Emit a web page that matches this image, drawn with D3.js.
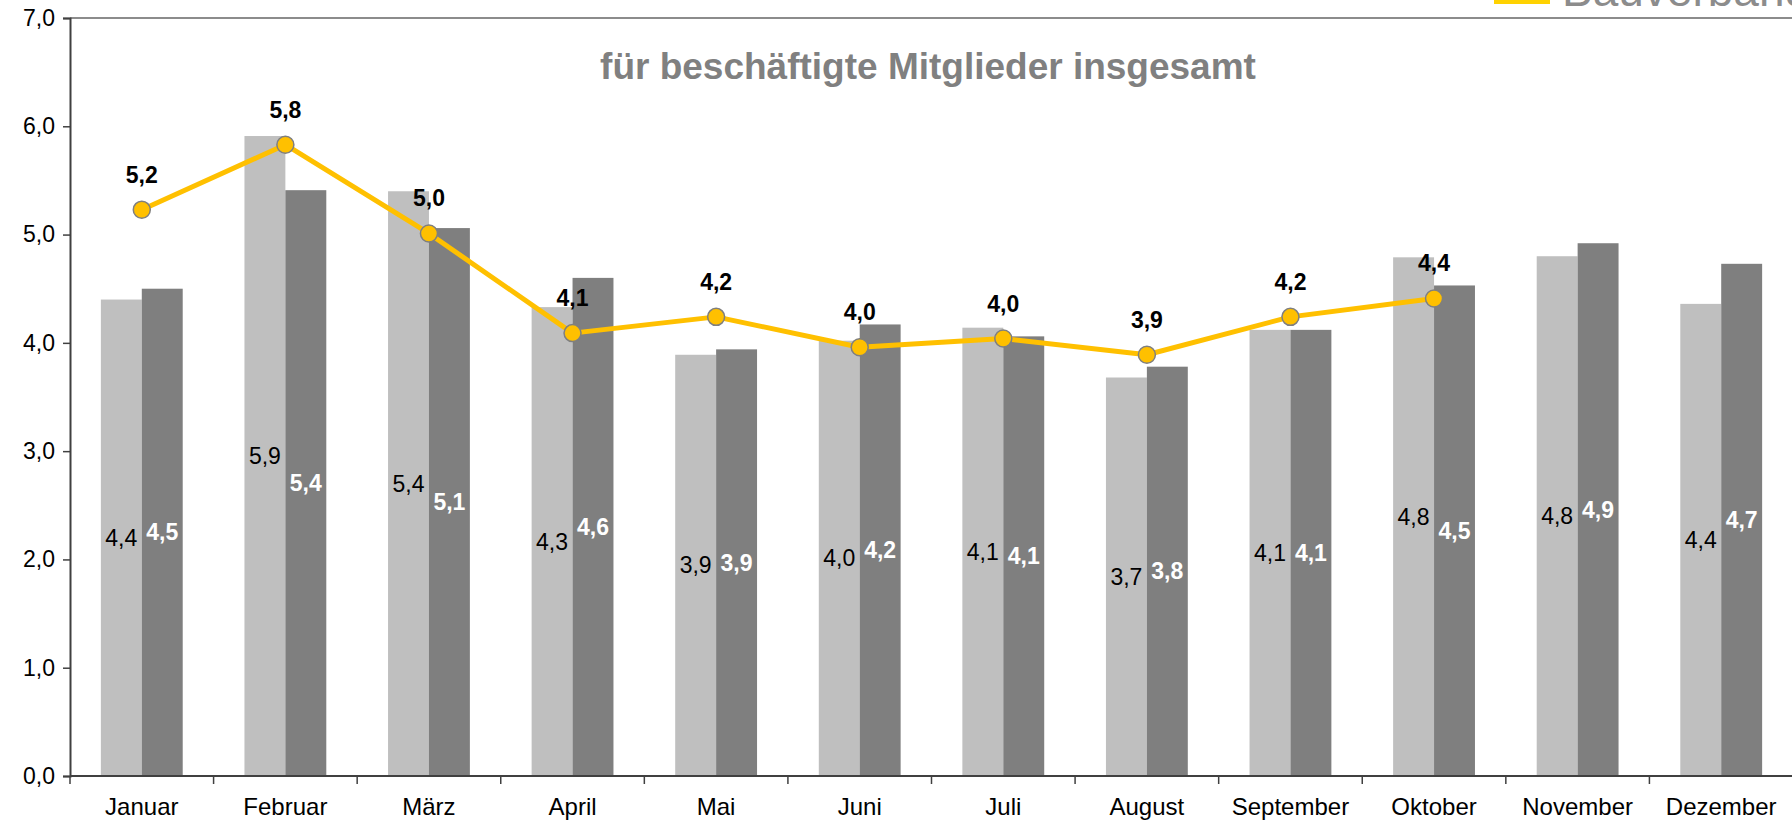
<!DOCTYPE html>
<html>
<head>
<meta charset="utf-8">
<script src="https://cdn.jsdelivr.net/npm/d3@7"></script>
<style>
	body { margin: 0; background: #fff; }
	svg { display: block; font-family: 'Liberation Sans', Arial, sans-serif; }
</style>
</head>
<body>
<svg id="mySVG" width="1792" height="822"></svg>
<script>

var months = ['Januar', 'Februar', 'März', 'April', 'Mai', 'Juni', 'Juli', 'August', 'September', 'Oktober', 'November', 'Dezember'];
// light grey bars, dark grey bars, yellow line (no value for Nov/Dez)
var lightValues = [4.40, 5.91, 5.40, 4.33, 3.89, 4.02, 4.14, 3.68, 4.12, 4.79, 4.80, 4.36];
var darkValues = [4.50, 5.41, 5.06, 4.60, 3.94, 4.17, 4.06, 3.78, 4.12, 4.53, 4.92, 4.73];
var lineValues = [5.23, 5.83, 5.01, 4.09, 4.24, 3.96, 4.04, 3.89, 4.24, 4.41, null, null];
var yTicks = [0, 1, 2, 3, 4, 5, 6, 7];
var title = 'für beschäftigte Mitglieder insgesamt';

var margin = {top: 18, right: -1, bottom: 46, left: 70};
var size = {width: 1792, height: 822};
var colors = {light: '#bfbfbf', dark: '#7f7f7f', line: '#ffc000', axis: '#404040', frame: '#8c8c8c'};

var de = d3.formatLocale({decimal: ',', thousands: '.', grouping: [3], currency: ['', ' €']});
var fmt = de.format('.1f');

var svg = d3.select('#mySVG');

var x = d3.scaleBand()
	.domain(months)
	.range([margin.left, size.width - margin.right])
	.paddingInner(0.43)
	.paddingOuter(0.215);

// outer band without padding, for the tick marks between months
var xStep = d3.scaleBand()
	.domain(months)
	.range([margin.left, size.width - margin.right]);

var xSub = d3.scaleBand()
	.domain(['light', 'dark'])
	.range([0, x.bandwidth()]);

var y = d3.scaleLinear()
	.domain([0, 7])
	.range([size.height - margin.bottom, margin.top]);

// logo remains at the top right (cut off by the page edge, as in the original)
svg.append('rect')
	.attr('x', 1494).attr('y', -10)
	.attr('width', 56).attr('height', 14)
	.attr('fill', '#ffd200');
svg.append('text')
	.attr('x', 1562).attr('y', 6)
	.attr('font-size', '46px')
	.attr('fill', '#8c8c8c')
	.text('Bauverband');

// frame top line
svg.append('line')
	.attr('x1', margin.left).attr('x2', size.width)
	.attr('y1', y(7)).attr('y2', y(7))
	.attr('stroke', colors.frame)
	.attr('stroke-width', 2);

svg.append('text')
	.attr('x', 928)
	.attr('y', 79)
	.attr('text-anchor', 'middle')
	.attr('font-size', '37px')
	.attr('font-weight', 'bold')
	.attr('fill', '#808080')
	.text(title);

var series = [
	{key: 'light', values: lightValues},
	{key: 'dark', values: darkValues}
];

var groups = svg.selectAll('g.series')
	.data(series)
	.enter().append('g')
	.attr('class', 'series');

groups.selectAll('rect')
	.data(s => s.values.map((v, i) => ({key: s.key, month: months[i], value: v})))
	.enter().append('rect')
	.attr('x', d => x(d.month) + xSub(d.key))
	.attr('y', d => y(d.value))
	.attr('width', xSub.bandwidth())
	.attr('height', d => y(0) - y(d.value))
	.attr('fill', d => colors[d.key]);

groups.selectAll('text')
	.data(s => s.values.map((v, i) => ({key: s.key, month: months[i], value: v})))
	.enter().append('text')
	.attr('x', d => x(d.month) + xSub(d.key) + xSub.bandwidth() / 2)
	.attr('y', d => y(d.value / 2) + 8)
	.attr('text-anchor', 'middle')
	.attr('font-size', '23px')
	.attr('font-weight', d => d.key == 'dark' ? 'bold' : 'normal')
	.attr('fill', d => d.key == 'dark' ? '#fff' : '#000')
	.text(d => fmt(d.value));

// y axis
var yAxis = d3.axisLeft(y)
	.tickValues(yTicks)
	.tickSize(7)
	.tickPadding(8)
	.tickFormat(fmt);

var gy = svg.append('g')
	.attr('transform', 'translate(' + margin.left + ',0)')
	.call(yAxis);
gy.select('.domain').attr('stroke', colors.axis).attr('stroke-width', 2);
gy.selectAll('.tick line').attr('stroke', colors.axis).attr('stroke-width', 1.5);
gy.selectAll('.tick text')
	.attr('font-size', '23px')
	.attr('font-family', "'Liberation Sans', Arial, sans-serif")
	.attr('fill', '#000');

// x axis
var gx = svg.append('g')
	.attr('transform', 'translate(0,' + y(0) + ')');
gx.append('line')
	.attr('x1', margin.left).attr('x2', size.width)
	.attr('stroke', colors.axis)
	.attr('stroke-width', 2);
gx.selectAll('line.tick')
	.data(months)
	.enter().append('line')
	.attr('class', 'tick')
	.attr('x1', d => xStep(d)).attr('x2', d => xStep(d))
	.attr('y1', 0).attr('y2', 8)
	.attr('stroke', colors.axis)
	.attr('stroke-width', 1.5);
gx.selectAll('text')
	.data(months)
	.enter().append('text')
	.attr('x', d => xStep(d) + xStep.bandwidth() / 2)
	.attr('y', 39)
	.attr('text-anchor', 'middle')
	.attr('font-size', '24px')
	.attr('fill', '#000')
	.text(d => d);

// yellow line
var linePts = lineValues
	.map((v, i) => ({month: months[i], value: v}))
	.filter(d => d.value != null);

var line = d3.line()
	.x(d => xStep(d.month) + xStep.bandwidth() / 2)
	.y(d => y(d.value));

svg.append('path')
	.datum(linePts)
	.attr('d', line)
	.attr('fill', 'none')
	.attr('stroke', colors.line)
	.attr('stroke-width', 5)
	.attr('stroke-linejoin', 'round');

svg.selectAll('circle.pt')
	.data(linePts)
	.enter().append('circle')
	.attr('class', 'pt')
	.attr('cx', d => xStep(d.month) + xStep.bandwidth() / 2)
	.attr('cy', d => y(d.value))
	.attr('r', 8.5)
	.attr('fill', colors.line)
	.attr('stroke', '#7f7f7f')
	.attr('stroke-width', 1.5);

svg.selectAll('text.pt')
	.data(linePts)
	.enter().append('text')
	.attr('class', 'pt')
	.attr('x', d => xStep(d.month) + xStep.bandwidth() / 2)
	.attr('y', d => y(d.value) - 27)
	.attr('text-anchor', 'middle')
	.attr('font-size', '23px')
	.attr('font-weight', 'bold')
	.attr('fill', '#000')
	.text(d => fmt(d.value));

</script>
</body>
</html>
